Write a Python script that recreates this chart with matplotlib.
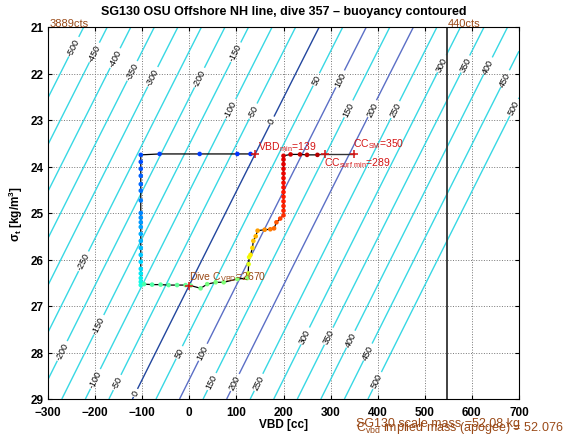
import numpy as np
import matplotlib
matplotlib.use('Agg')
import matplotlib.pyplot as plt

plt.rcParams['font.family'] = ['Liberation Sans', 'DejaVu Sans']
plt.rcParams['mathtext.default'] = 'regular'

# ---------------- data ----------------
title = "SG130 OSU Offshore NH line, dive 357 \u2013 buoyancy contoured"
glider_mass_kg = 52.076          # C_vbd implied mass
hull_volume_cc = 50729.0         # displaced volume at VBD = 0
contour_levels = list(range(-500, 501, 50))
blue_levels = [100, 200]
dark_level = 0

vbd_max_cc = 548                 # 440 cts limit
vbd_min_label = "3889cts"
vbd_max_label = "440cts"

# dive trace (time order), one list per phase
surface_start_vbd = [130, 102, 22, -63, -103]
surface_start_sigma = [23.73, 23.73, 23.73, 23.73, 23.75]
descent_vbd = [-103] * 20
descent_sigma = [23.9, 24.05, 24.2, 24.38, 24.52, 24.73, 25.0, 25.1, 25.2, 25.3,
                 25.45, 25.6, 25.75, 25.9, 26.05, 26.2, 26.3, 26.4, 26.48, 26.55]
apogee_vbd = [-96, -79, -61, -44, -26, -8, 3, 24, 38, 56, 73, 102, 123]
apogee_sigma = [26.53, 26.54, 26.54, 26.55, 26.55, 26.55, 26.56, 26.62, 26.53, 26.49, 26.49, 26.42, 26.4]
climb_vbd = [125, 126, 127, 130, 134, 136, 141, 145, 160, 172, 180, 185, 193, 200,
             200, 200, 200, 200, 200, 200, 200, 200, 200, 200, 200, 200, 200]
climb_sigma = [26.3, 26.1, 25.95, 25.9, 25.75, 25.6, 25.5, 25.38, 25.36, 25.35, 25.33, 25.2, 25.12, 25.05,
               24.95, 24.85, 24.75, 24.65, 24.55, 24.45, 24.35, 24.25, 24.15, 24.05, 23.95, 23.85, 23.77]
surface_end_vbd = [215, 235, 250, 272]
surface_end_sigma = [23.74, 23.74, 23.75, 23.75]

sigma_surface = 23.73
vbd_min = 139
cc_sm = 350
cc_surf_min = 289
dive_cvbd_vbd = 0
dive_cvbd_sigma = 26.57
dive_cvbd = 2670
scale_mass_kg = 52.08

# contour label positions (VBD, sigma_t)
label_positions = [(-248, 21.41), (-203, 21.54), (-161, 21.65), (-120, 21.95), (-76, 22.08),
                   (20, 22.08), (94, 21.52), (88, 22.76), (136, 22.81), (177, 23.02),
                   (268, 22.12), (321, 22.12), (338, 22.76), (389, 22.76), (434, 22.76),
                   (538, 21.8), (587, 21.8), (635, 21.84), (672, 22.12), (688, 22.72),
                   (-226, 26.03), (-195, 27.39), (-269, 27.97), (-199, 28.57), (-156, 28.63),
                   (-118, 28.85), (-23, 27.99), (28, 27.99), (45, 28.61), (94, 28.63),
                   (145, 28.63), (247, 27.65), (296, 27.65), (342, 27.71), (379, 27.99),
                   (400, 28.61)]

# ---------------- styles ----------------
cyan = '#38d8e4'
slate = '#5b6fc6'
navy = '#23479e'
brown = '#9a4a18'
red = '#d41414'

fig = plt.figure(figsize=(5.70, 4.39), dpi=100)
ax = fig.add_axes([48/570, 1-400/439, 471/570, 372/439])

# buoyancy field (cc equivalent)
vg = np.linspace(-300, 700, 201)
sg = np.linspace(21, 29, 161)
V, S = np.meshgrid(vg, sg)
B = hull_volume_cc + V - glider_mass_kg / (1000.0 + S) * 1e6

colors = []
for lv in contour_levels:
    if lv == dark_level:
        colors.append(navy)
    elif lv in blue_levels:
        colors.append(slate)
    else:
        colors.append(cyan)
cs = ax.contour(V, S, B, levels=contour_levels, colors=colors, linewidths=1.0)
labels = ax.clabel(cs, fmt='%d', fontsize=6.5, inline=True, inline_spacing=2,
                   manual=label_positions, colors='k')
for t in labels:
    t.set_rotation(63.5)

# VBD max line
ax.axvline(vbd_max_cc, color='#333333', lw=1.3)

# trace
trace_vbd = surface_start_vbd + descent_vbd + apogee_vbd + climb_vbd + surface_end_vbd
trace_sigma = surface_start_sigma + descent_sigma + apogee_sigma + climb_sigma + surface_end_sigma
cpos = np.concatenate([
    np.linspace(0.17, 0.2, len(surface_start_vbd)),
    np.linspace(0.2, 0.38, len(descent_vbd)),
    np.linspace(0.44, 0.52, len(apogee_vbd)),
    np.concatenate([np.linspace(0.6, 0.86, 14), np.linspace(0.87, 0.92, len(climb_vbd) - 14)]),
    np.linspace(0.93, 0.95, len(surface_end_vbd)),
])
ax.plot(trace_vbd, trace_sigma, color='k', lw=0.9, zorder=4)
ax.plot([trace_vbd[-1], cc_sm], [sigma_surface, sigma_surface], color='#333333', lw=1.0, zorder=4)
ax.plot([trace_vbd[0], vbd_min], [trace_sigma[0], sigma_surface], color='#555555', lw=1.0, zorder=4)
cmap = plt.get_cmap('jet')
ax.scatter(trace_vbd, trace_sigma, c=cmap(cpos), s=11, edgecolors='none', zorder=5)

# markers
ax.plot([vbd_min, cc_sm, cc_surf_min], [sigma_surface]*3, '+', color=red, ms=6, mew=1.1, zorder=6)
ax.plot([dive_cvbd_vbd], [dive_cvbd_sigma], '+', color=red, ms=6, mew=1.1, zorder=6)

ax.annotate(r"VBD$_{min}$=%d" % vbd_min, (vbd_min, sigma_surface), xytext=(2, 1),
            textcoords='offset points', color=red, fontsize=7.5, ha='left', va='bottom', zorder=7)
ax.annotate(r"CC$_{SM}$=%d" % cc_sm, (cc_sm, sigma_surface), xytext=(-1, 3),
            textcoords='offset points', color=red, fontsize=7.5, ha='left', va='bottom', zorder=7)
ax.annotate(r"CC$_{surf\ min}$=%d" % cc_surf_min, (cc_surf_min, sigma_surface), xytext=(-1, -1),
            textcoords='offset points', color=red, fontsize=7.5, ha='left', va='top', zorder=7)
ax.annotate(r"Dive C$_{VBD}$=%d" % dive_cvbd, (dive_cvbd_vbd, dive_cvbd_sigma), xytext=(0, 2),
            textcoords='offset points', color=brown, fontsize=7.5, ha='left', va='bottom', zorder=7)

ax.annotate(vbd_min_label, (-300, 21), xytext=(1, 1), textcoords='offset points',
            color=brown, fontsize=8, ha='left', va='baseline', annotation_clip=False)
ax.annotate(vbd_max_label, (vbd_max_cc, 21), xytext=(0, 1), textcoords='offset points',
            color=brown, fontsize=8, ha='left', va='baseline', annotation_clip=False)

ax.annotate("SG130 scale mass =%.2f kg" % scale_mass_kg, (353, 0), xycoords=('data', 'axes fraction'),
            xytext=(0, -13), textcoords='offset points', color=brown, fontsize=9,
            ha='left', va='top', annotation_clip=False)
ax.annotate(r"C$_{vbd}$ implied mass (apogee) = %.3f" % glider_mass_kg, (353, 0),
            xycoords=('data', 'axes fraction'), xytext=(0, -14.5), textcoords='offset points',
            color=brown, fontsize=9, ha='left', va='top', annotation_clip=False)

ax.set_xlim(-300, 700)
ax.set_ylim(29, 21)
ax.set_xticks(range(-300, 701, 100))
ax.set_yticks(range(21, 30))
ax.grid(True, linestyle=':', color='#777777', lw=0.7)
ax.tick_params(direction='in', top=True, right=True, length=3, labelsize=8.5)
ax.tick_params(axis='x', pad=5)
ax.tick_params(axis='y', pad=3)
for lab in ax.get_xticklabels() + ax.get_yticklabels():
    lab.set_fontweight('bold')
ax.set_xlabel("VBD [cc]", fontsize=8.5, fontweight='bold', labelpad=0)
ax.set_ylabel(r"$\sigma_t$ [kg/m$^3$]", fontsize=8.5, fontweight='bold', labelpad=4)
ax.set_title(title, fontsize=9, fontweight='bold', pad=9.5)

fig.savefig('out.png', dpi=100)
